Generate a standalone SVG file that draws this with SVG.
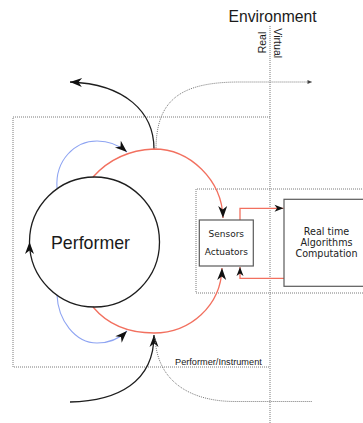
<svg xmlns="http://www.w3.org/2000/svg" width="363" height="423" viewBox="0 0 363 423">
  <style>
    .dot { fill: none; stroke: #7a7a7a; stroke-width: 1; stroke-dasharray: 1 1; }
    .box { fill: #fff; stroke: #5a5a5a; stroke-width: 1.2; }
    .blk { fill: none; stroke: #1e1e1e; stroke-width: 1.3; }
    .red { fill: none; stroke: #f2705f; stroke-width: 1.3; }
    .blue { fill: none; stroke: #8ea4f2; stroke-width: 1.1; }
    .sans { font-family: "Liberation Sans", Arial, sans-serif; fill: #1a1a1a; }
    .dv { font-family: "DejaVu Sans", Verdana, sans-serif; fill: #222; }
  </style>
  <defs>
    <marker id="ah" viewBox="-13 -6 14 12" refX="0" refY="0" markerWidth="14" markerHeight="12" markerUnits="userSpaceOnUse" orient="auto">
      <path d="M0,0 L-12,-4.5 L-8.5,0 L-12,4.5 Z" fill="#111"/>
    </marker>
    <marker id="ahs" viewBox="-10 -5 11 10" refX="0" refY="0" markerWidth="11" markerHeight="10" markerUnits="userSpaceOnUse" orient="auto">
      <path d="M0,0 L-9,-3.5 L-6.5,0 L-9,3.5 Z" fill="#111"/>
    </marker>
    <marker id="ahd" viewBox="-5 -3 6 6" refX="0" refY="0" markerWidth="6" markerHeight="6" markerUnits="userSpaceOnUse" orient="auto">
      <path d="M0,0 L-4.5,-2 L-4.5,2 Z" fill="#444"/>
    </marker>
  </defs>

  <!-- frames -->
  <g id="real-virtual-divider">
    <line class="dot" x1="270" y1="26" x2="270" y2="423"/>
  </g>
  <g id="performer-instrument">
    <path class="dot" d="M270,117 H13 V367 H270"/>
    <text class="sans" x="175" y="365" font-size="9.2">Performer/Instrument</text>
  </g>
  <g id="instrument-frame">
    <path class="dot" d="M366,189 H196 V293 H366"/>
  </g>

  <!-- labels -->
  <g id="environment">
    <text class="sans" x="272.5" y="21.5" font-size="15.7" text-anchor="middle">Environment</text>
    <text class="sans" font-size="10.5" transform="translate(265.6,53.3) rotate(-90)">Real</text>
    <text class="sans" font-size="10.6" transform="translate(274.2,28.3) rotate(90)">Virtual</text>
  </g>

  <!-- connectors -->
  <g id="connectors">
    <!-- performer to environment (real) -->
    <path class="blk" d="M154,149 C154,112 125,84 70,82" marker-end="url(#ah)"/>
    <!-- performer to environment (virtual) -->
    <path class="dot" d="M156,150 C156,100 180,82 240,82 L312,82" marker-end="url(#ahd)"/>
    <!-- environment to performer -->
    <path class="blk" d="M70,402 C118,401 154,382 154,335" marker-end="url(#ah)"/>
    <path class="dot" d="M311.7,401.5 L235,401.5 C195,401.5 157,385 155,337"/>
    <!-- performer to sensors -->
    <path class="red" d="M93,177 C110,158 130,150 154,149 C190,149 222,180 223,218" marker-end="url(#ah)"/>
    <!-- actuators to performer -->
    <path class="red" d="M93,307 C108,325 130,333 154,333 C190,333 221,306 222,268" marker-end="url(#ah)"/>
    <!-- feedback loops -->
    <path class="blue" d="M57,188 C55,160 75,141 97,141 C110,141 120,146 127,152" marker-end="url(#ah)"/>
    <path class="blue" d="M57,295 C58,320 75,343 97,343 C110,343 120,338 127,331" marker-end="url(#ah)"/>
    <!-- sensors <-> computation -->
    <path class="red" d="M240,220 V208.3 H283.5" marker-end="url(#ahs)"/>
    <path class="red" d="M284,278.3 H240 V267" marker-end="url(#ahs)"/>
  </g>

  <!-- nodes -->
  <g id="performer">
    <path class="blk" stroke-width="1.6" d="M94.5,307 A65,65 0 0 1 29.5,242 A65,65 0 1 1 94.5,307" marker-mid="url(#ah)"/>
    <text class="sans" x="90.5" y="248.5" font-size="17.8" text-anchor="middle">Performer</text>
  </g>
  <g id="sensors-actuators">
    <rect class="box" x="199.3" y="220" width="54" height="46"/>
    <text class="dv" x="226.3" y="237" font-size="9" text-anchor="middle">Sensors</text>
    <text class="dv" x="226.3" y="255" font-size="9" text-anchor="middle">Actuators</text>
  </g>
  <g id="computation">
    <rect class="box" x="284" y="199.3" width="90" height="87"/>
    <text class="dv" x="326.5" y="235" font-size="9.6" text-anchor="middle">Real time</text>
    <text class="dv" x="326.5" y="246" font-size="9.6" text-anchor="middle">Algorithms</text>
    <text class="dv" x="326.5" y="257" font-size="9.6" text-anchor="middle">Computation</text>
  </g>
</svg>
